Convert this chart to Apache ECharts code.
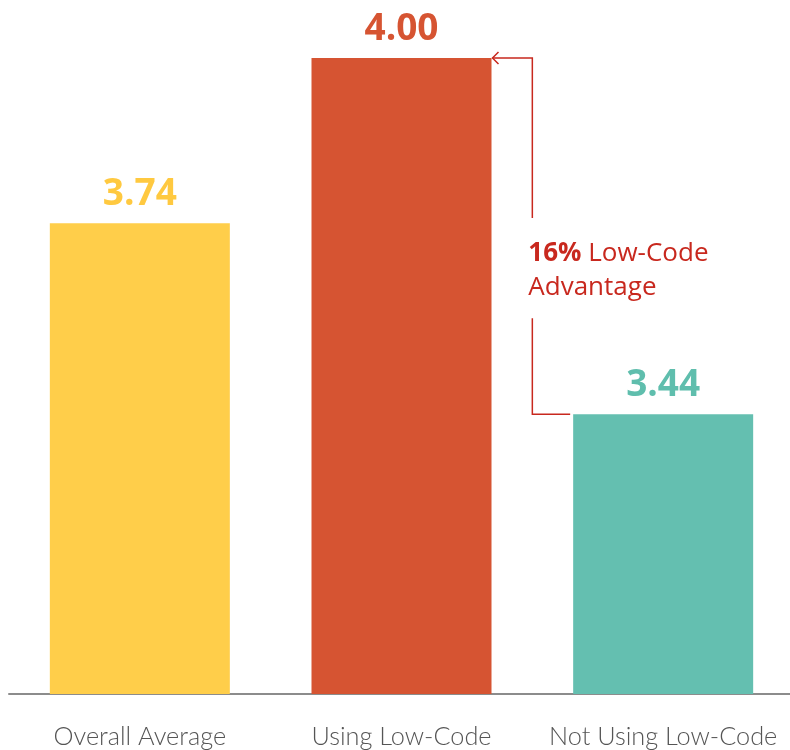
<!DOCTYPE html>
<html>
<head>
<meta charset="utf-8">
<script src="https://cdn.jsdelivr.net/npm/echarts@6/dist/echarts.min.js"></script>
<style>
  html, body { margin: 0; padding: 0; background: #fff; }
  #chart { width: 790px; height: 750px; }
</style>
</head>
<body>
<div id="chart"></div>
<script>
// data
const categories = ['Overall Average', 'Using Low-Code', 'Not Using Low-Code'];
const values = [3.74, 4.00, 3.44];
const barColors = ['#FFCE4A', '#D65432', '#64BFB0'];
const labelColors = ['#FFC940', '#D65432', '#5FBEAD'];
const annotBold = '16%';
const annotLines = ['Low-Code', 'Advantage'];
const annotFrom = 1;   // Using Low-Code
const annotTo = 2;     // Not Using Low-Code

const RED = '#C8281E';
const chart = echarts.init(document.getElementById('chart'));

chart.setOption({
  animation: false,
  grid: { left: 9, width: 785, top: 58, bottom: 56, outerBoundsMode: 'none' },
  xAxis: {
    type: 'category',
    data: categories,
    axisLine: { lineStyle: { color: '#8C8C8C', width: 2 } },
    axisTick: { show: false },
    axisLabel: {
      color: '#555',
      fontFamily: 'Lato',
      fontWeight: 300,
      fontSize: 25.3,
      margin: 30,
      interval: 0,
    },
  },
  yAxis: { type: 'value', min: 3, max: 4, show: false, splitLine: { show: false } },
  series: [{
    type: 'bar',
    barWidth: 180,
    data: values.map((v, i) => ({
      value: v,
      itemStyle: { color: barColors[i] },
      label: { color: labelColors[i] },
    })),
    label: {
      show: true,
      position: 'top',
      distance: 10,
      fontFamily: 'Open Sans',
      fontWeight: 'bold',
      fontSize: 37,
      formatter: p => p.value.toFixed(2),
    },
  }],
});

// ─── annotation: bracket between the two low-code bars ───
const half = 90;
const pHi = chart.convertToPixel({ xAxisIndex: 0, yAxisIndex: 0 }, [annotFrom, values[annotFrom]]);
const pLo = chart.convertToPixel({ xAxisIndex: 0, yAxisIndex: 0 }, [annotTo, values[annotTo]]);
const bendX = (pHi[0] + pLo[0]) / 2;
const tipX = pHi[0] + half + 1;
const endX = pLo[0] - half - 3;

chart.setOption({
  graphic: [
    { type: 'polyline', shape: { points: [[tipX, pHi[1]], [bendX, pHi[1]], [bendX, pHi[1] + 160]] },
      style: { stroke: RED, lineWidth: 1.5, fill: null } },
    { type: 'polyline', shape: { points: [[tipX + 6, pHi[1] - 6], [tipX, pHi[1]], [tipX + 6, pHi[1] + 6]] },
      style: { stroke: RED, lineWidth: 1.5, fill: null } },
    { type: 'polyline', shape: { points: [[bendX, pLo[1] - 96], [bendX, pLo[1]], [endX, pLo[1]]] },
      style: { stroke: RED, lineWidth: 1.5, fill: null } },
    { type: 'text', x: bendX - 4, y: pHi[1] + 179,
      style: {
        text: '{b|' + annotBold + '} ' + annotLines[0] + '\n' + annotLines[1],
        fill: RED, fontFamily: 'Open Sans', fontSize: 26, lineHeight: 34,
        rich: { b: { fontWeight: 'bold', fontSize: 26, fill: RED, fontFamily: 'Open Sans' } },
      } },
  ],
});
</script>
</body>
</html>
